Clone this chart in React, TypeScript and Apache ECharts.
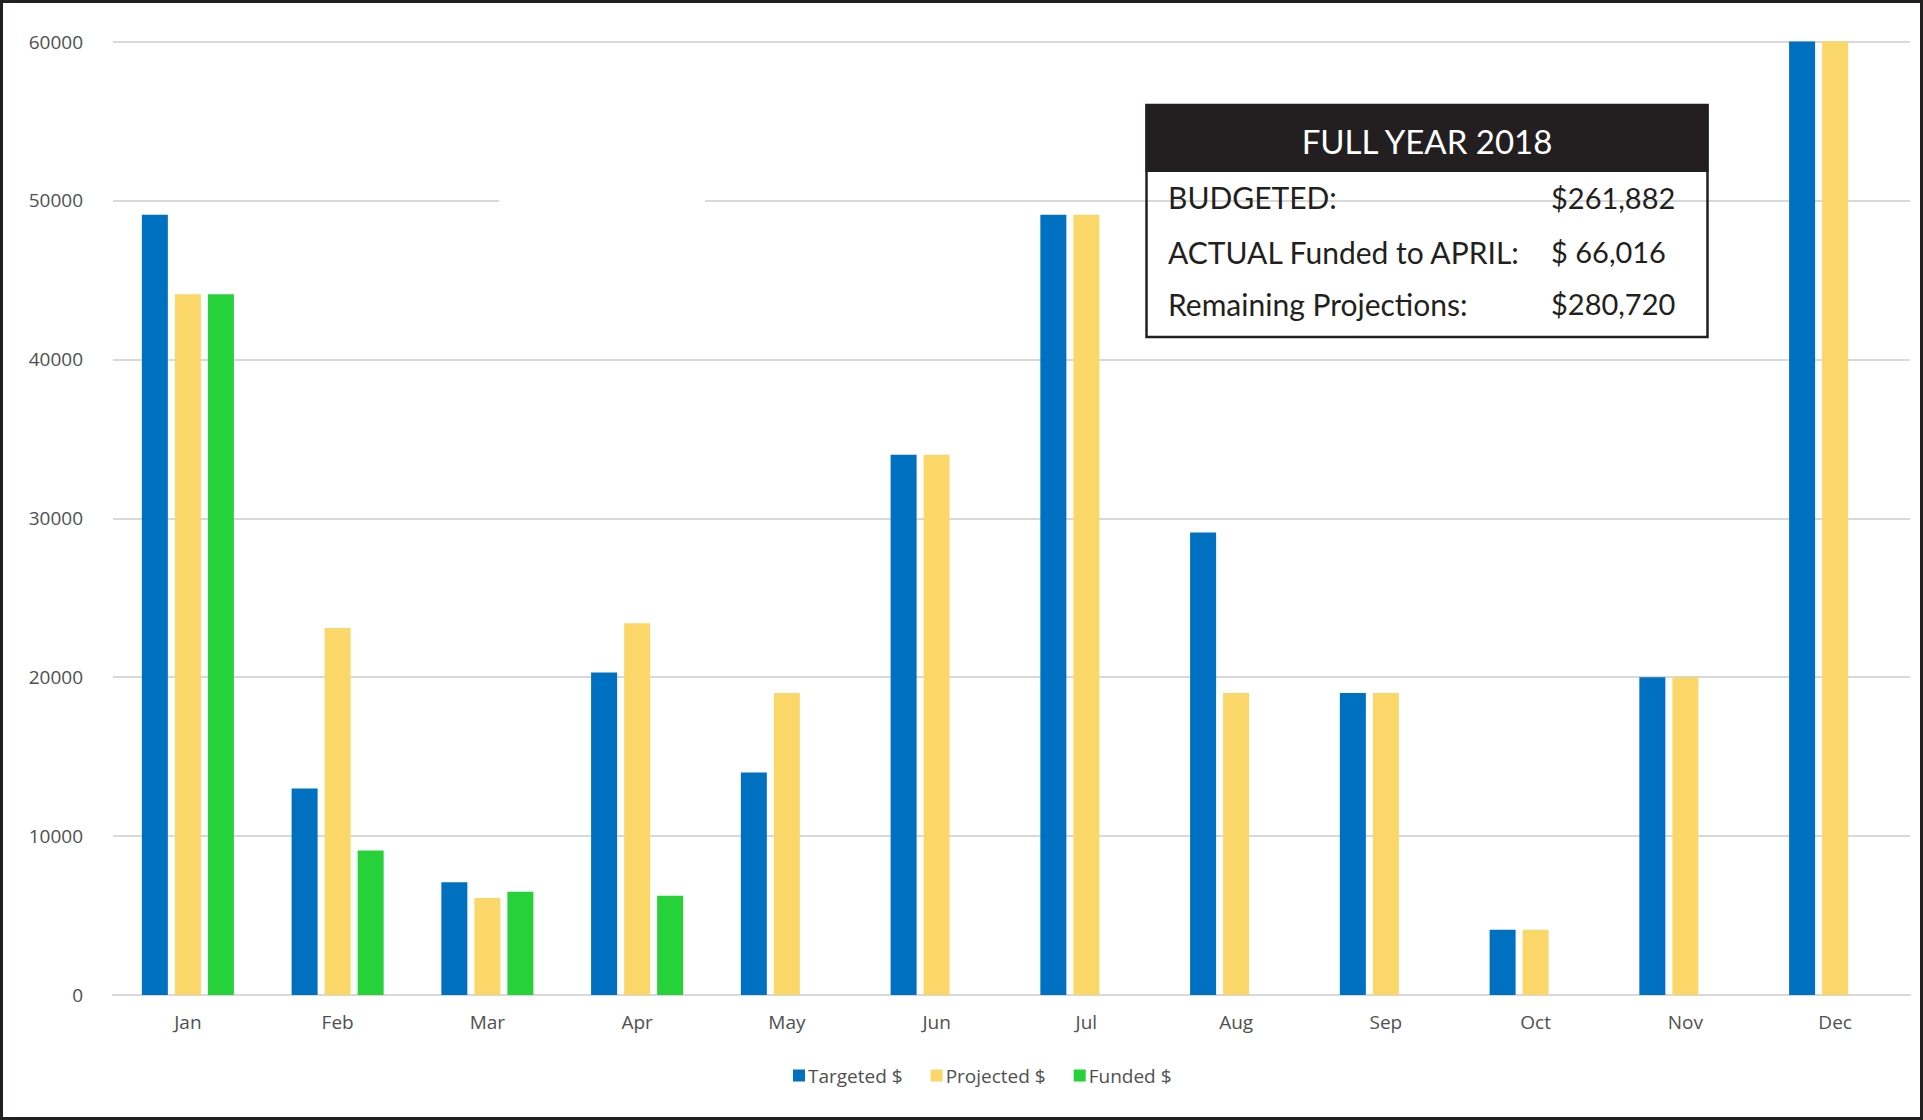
import React, { useEffect, useRef } from "react";
import * as echarts from "echarts";

const months = ["Jan", "Feb", "Mar", "Apr", "May", "Jun", "Jul", "Aug", "Sep", "Oct", "Nov", "Dec"];
const targeted = [49100, 13000, 7100, 20300, 14000, 34000, 49100, 29100, 19000, 4100, 20000, 60000];
const projected = [44100, 23100, 6100, 23400, 19000, 34000, 49100, 19000, 19000, 4100, 20000, 60000];
const funded = [44100, 9100, 6500, 6250, null, null, null, null, null, null, null, null];
const seriesNames = ["Targeted $", "Projected $", "Funded $"];
const seriesColors = ["#0070C0", "#FAD768", "#27D13A"];

const boxTitle = "FULL YEAR 2018";
const summaryLabels = ["BUDGETED:", "ACTUAL Funded to APRIL:", "Remaining Projections:"];
const summaryValues = ["$261,882", "$ 66,016", "$280,720"];

export default function App() {
  const ref = useRef<HTMLDivElement>(null);
  useEffect(() => {
    if (!ref.current) return;
    const chart = echarts.init(ref.current, null, { renderer: "svg" });
    const boxFont = "Lato, 'Open Sans', sans-serif";
    const rowYs = [197, 251.5, 303.5];
    const graphics: any[] = [
      // frame
      {
        type: "rect",
        z: 100,
        shape: { x: 1.5, y: 1.5, width: 1920, height: 1117 },
        style: { fill: "none", stroke: "#231F20", lineWidth: 3 },
      },
      // gap in 50000 gridline
      {
        type: "rect",
        z: 1,
        shape: { x: 499, y: 196, width: 206, height: 7 },
        style: { fill: "#FFFFFF" },
      },
      // summary box header
      {
        type: "rect",
        z: 50,
        shape: { x: 1145.5, y: 104, width: 563, height: 68 },
        style: { fill: "#231F20" },
      },
      {
        type: "rect",
        z: 50,
        shape: { x: 1146.5, y: 105, width: 561, height: 232 },
        style: { fill: "none", stroke: "#231F20", lineWidth: 2.5 },
      },
      {
        type: "text",
        z: 51,
        x: 1427,
        y: 140.5,
        style: {
          text: boxTitle,
          fill: "#FFFFFF",
          font: `33px ${boxFont}`,
          align: "center",
          verticalAlign: "middle",
        },
      },
    ];
    summaryLabels.forEach((lab, i) => {
      graphics.push({
        type: "text",
        z: 51,
        x: 1168,
        y: rowYs[i],
        style: { text: lab, fill: "#231F20", font: `30px ${boxFont}`, align: "left", verticalAlign: "middle" },
      });
      graphics.push({
        type: "text",
        z: 51,
        x: 1551,
        y: rowYs[i],
        style: { text: summaryValues[i], fill: "#231F20", font: `29px ${boxFont}`, align: "left", verticalAlign: "middle" },
      });
    });

    const labelFont = "'Open Sans', sans-serif";
    const data = [targeted, projected, funded];
    chart.setOption({
      animation: false,
      backgroundColor: "#FFFFFF",
      grid: { left: 113, right: 13, top: 41.5, bottom: 125 },
      legend: {
        left: 793,
        top: 1066,
        padding: 0,
        itemWidth: 12,
        itemHeight: 12,
        itemGap: 28,
        icon: "rect",
        textStyle: { color: "#505050", fontSize: 19, fontFamily: labelFont, padding: [0, 0, 0, -2] },
        data: seriesNames,
      },
      xAxis: {
        type: "category",
        data: months,
        axisLine: { lineStyle: { color: "#D9D9D9", width: 2 } },
        axisTick: { show: false },
        axisLabel: { color: "#505050", fontSize: 19, fontFamily: labelFont, margin: 17 },
      },
      yAxis: {
        type: "value",
        min: 0,
        max: 60000,
        interval: 10000,
        axisLine: { show: false },
        axisTick: { show: false },
        axisLabel: {
          color: "#505050",
          fontSize: 19,
          fontFamily: labelFont,
          margin: 30,
          formatter: (v: number) => String(v),
        },
        splitLine: { lineStyle: { color: "#D9D9D9", width: 2 } },
      },
      series: seriesNames.map((name, i) => ({
        name,
        type: "bar",
        data: data[i],
        barWidth: 26,
        barGap: "27%",
        itemStyle: { color: seriesColors[i] },
      })),
      graphic: graphics,
    });
    return () => chart.dispose();
  }, []);
  return (
    <div
      ref={ref}
      style={{ position: "absolute", left: 0, top: 0, width: 1923, height: 1120 }}
    />
  );
}
